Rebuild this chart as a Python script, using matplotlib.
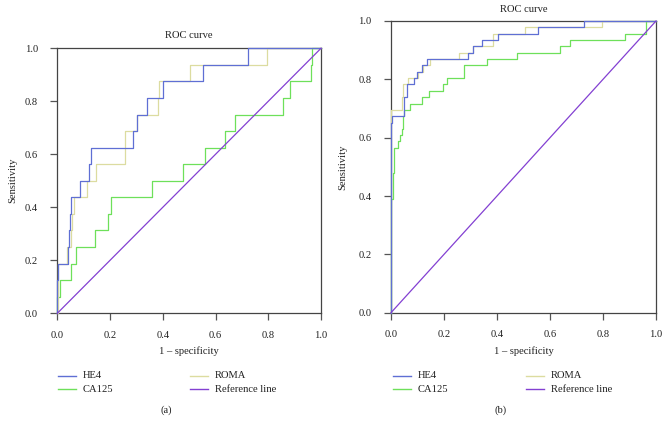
"""Two ROC panels (HE4, CA125, ROMA vs reference line), as in the figure."""
import matplotlib
matplotlib.use("Agg")
import matplotlib.pyplot as plt
from matplotlib.lines import Line2D

plt.rcParams["font.family"] = ["Liberation Serif", "DejaVu Serif"]

W, H = 669, 433

# ROC step vertices: at each fpr the curve jumps up to the given sensitivity
# panel (a)
A_HE4_FPR = [0, 0, 0.004, 0.039, 0.046, 0.049, 0.053, 0.086, 0.120, 0.126,
             0.288, 0.303, 0.341, 0.400, 0.551, 0.724, 1.0]
A_HE4_SENS = [0, 0.125, 0.1875, 0.25, 0.3125, 0.375, 0.4375, 0.5, 0.5625,
              0.625, 0.6875, 0.75, 0.8125, 0.875, 0.9375, 1.0, 1.0]
A_CA125_FPR = [0, 0, 0.010, 0.051, 0.072, 0.143, 0.193, 0.204, 0.358, 0.475,
               0.560, 0.637, 0.675, 0.857, 0.882, 0.961, 0.966, 1.0]
A_CA125_SENS = [0, 0.0625, 0.125, 0.1875, 0.25, 0.3125, 0.375, 0.4375, 0.5,
                0.5625, 0.625, 0.6875, 0.75, 0.8125, 0.875, 0.9375, 1.0, 1.0]
A_ROMA_FPR = [0, 0.003, 0.035, 0.052, 0.057, 0.063, 0.114, 0.145, 0.255,
              0.258, 0.303, 0.382, 0.384, 0.503, 0.794, 1.0]
A_ROMA_SENS = [0, 0.1875, 0.25, 0.3125, 0.375, 0.4375, 0.5, 0.5625, 0.625,
               0.6875, 0.75, 0.8125, 0.875, 0.9375, 1.0, 1.0]

# panel (b)
B_HE4_FPR = [0, 0, 0.005, 0.050, 0.059, 0.087, 0.099, 0.116, 0.137, 0.292,
             0.308, 0.342, 0.403, 0.553, 0.727, 1.0]
B_HE4_SENS = [0, 0.652, 0.674, 0.739, 0.783, 0.804, 0.826, 0.848, 0.870,
              0.891, 0.913, 0.935, 0.957, 0.978, 1.0, 1.0]
B_CA125_FPR = [0, 0, 0.006, 0.013, 0.025, 0.034, 0.040, 0.044, 0.047, 0.050,
               0.072, 0.116, 0.145, 0.197, 0.210, 0.275, 0.361, 0.476, 0.638,
               0.675, 0.882, 0.962, 1.0]
B_CA125_SENS = [0, 0.391, 0.478, 0.565, 0.587, 0.609, 0.630, 0.652, 0.674,
                0.696, 0.717, 0.739, 0.761, 0.783, 0.804, 0.848, 0.870, 0.891,
                0.913, 0.935, 0.957, 1.0, 1.0]
B_ROMA_FPR = [0, 0, 0.040, 0.045, 0.065, 0.103, 0.120, 0.147, 0.258, 0.308,
              0.384, 0.506, 0.795, 1.0]
B_ROMA_SENS = [0, 0.696, 0.739, 0.783, 0.804, 0.826, 0.848, 0.870, 0.891,
               0.913, 0.957, 0.978, 1.0, 1.0]

TICKS = [0.0, 0.2, 0.4, 0.6, 0.8, 1.0]

C_HE4 = "#5f6fd4"
C_CA125 = "#6ee05a"
C_ROMA = "#dcdca0"
C_REF = "#8340d2"
FS = 7.6


def fx(px):
    return px / W


def fy(py):
    return 1 - py / H


def panel(fig, box, curves, title, title_y, ylab_x):
    x0, x1, ytop, ybot = box
    ax = fig.add_axes([fx(x0), fy(ybot), (x1 - x0) / W, (ybot - ytop) / H])
    for xs, ys, c in curves:
        ax.plot(xs, ys, drawstyle="steps-post", color=c, lw=0.9,
                clip_on=False, zorder=3)
    ax.plot([0, 1], [0, 1], color=C_REF, lw=0.9, clip_on=False, zorder=4)
    ax.set_xlim(0, 1)
    ax.set_ylim(0, 1)
    ax.set_xticks(TICKS)
    ax.set_yticks(TICKS)
    ax.set_xticklabels([f"{t:.1f}" for t in TICKS])
    ax.set_yticklabels([f"{t:.1f}" for t in TICKS])
    ax.tick_params(direction="out", length=5, width=0.9, color="#555555",
                   labelsize=FS, labelcolor="#222222")
    ax.tick_params(axis="x", pad=7.5)
    ax.tick_params(axis="y", pad=9)
    for s in ax.spines.values():
        s.set_color("#444444")
        s.set_linewidth(0.9)
    cx = (x0 + x1) / 2
    fig.text(fx(cx), fy(title_y), title, ha="center", va="center",
             fontsize=FS, color="#222222")
    fig.text(fx(cx), fy(351), "1 \u2013 specificity", ha="center",
             va="center", fontsize=FS, color="#222222")
    fig.text(fx(ylab_x), fy((ytop + ybot) / 2), "Sensitivity", rotation=90,
             ha="center", va="center", fontsize=FS, color="#222222")
    return ax


def legend_entry(fig, x, y, color, label):
    fig.add_artist(Line2D([fx(x), fx(x + 18)], [fy(y), fy(y)], color=color,
                          lw=1.0, transform=fig.transFigure))
    fig.text(fx(x + 25), fy(y), label, ha="left", va="center", fontsize=FS,
             color="#222222")


def main():
    fig = plt.figure(figsize=(W / 100, H / 100), dpi=100)

    panel(fig, (57.3, 321.0, 48.3, 313.3),
          [(A_CA125_FPR, A_CA125_SENS, C_CA125),
           (A_ROMA_FPR, A_ROMA_SENS, C_ROMA),
           (A_HE4_FPR, A_HE4_SENS, C_HE4)],
          "ROC curve", 36, 13)
    panel(fig, (391.0, 656.0, 21.0, 312.7),
          [(B_CA125_FPR, B_CA125_SENS, C_CA125),
           (B_ROMA_FPR, B_ROMA_SENS, C_ROMA),
           (B_HE4_FPR, B_HE4_SENS, C_HE4)],
          "ROC curve", 10, 343)

    for lx, rx in [(58, 190), (393, 526)]:
        legend_entry(fig, lx, 376, C_HE4, "HE4")
        legend_entry(fig, lx, 389, C_CA125, "CA125")
        legend_entry(fig, rx, 376, C_ROMA, "ROMA")
        legend_entry(fig, rx, 389, C_REF, "Reference line")

    fig.text(fx(166), fy(410), "(a)", ha="center", va="center", fontsize=FS,
             color="#222222")
    fig.text(fx(501), fy(410), "(b)", ha="center", va="center", fontsize=FS,
             color="#222222")

    fig.savefig("out.png", dpi=100)


if __name__ == "__main__":
    main()
